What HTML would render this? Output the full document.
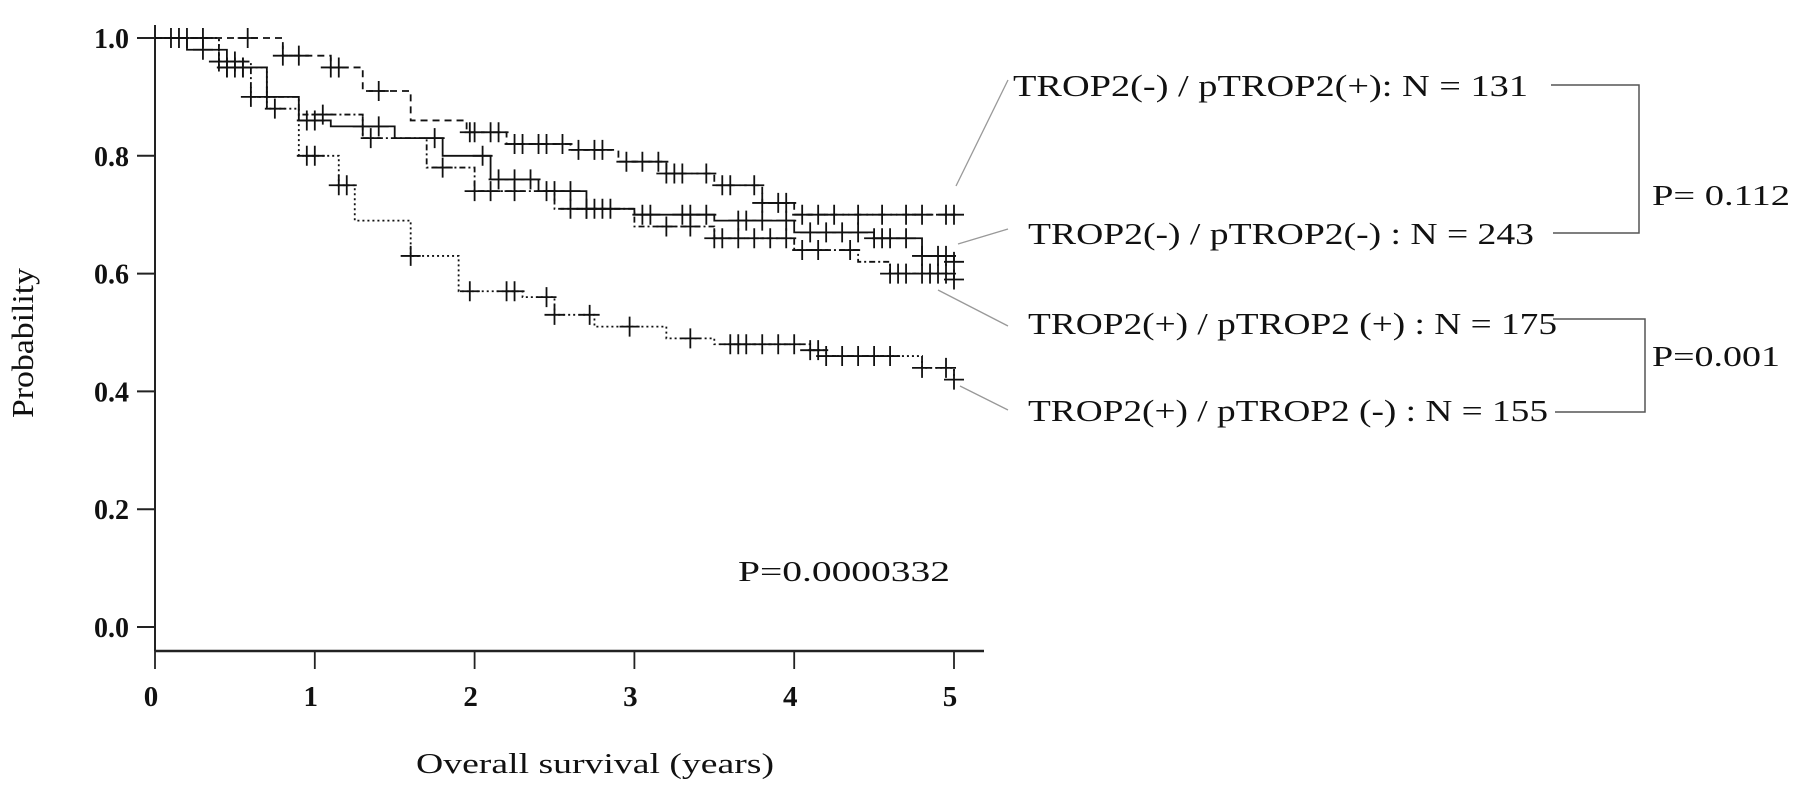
<!DOCTYPE html>
<html><head><meta charset="utf-8">
<style>
html,body{margin:0;padding:0;background:#fff;}
svg{display:block;}
text{font-family:"Liberation Serif",serif;fill:#111;}
</style></head>
<body>
<svg id="chart" width="1795" height="794" viewBox="0 0 1795 794" xmlns="http://www.w3.org/2000/svg">
<g id="axes"></g>
<g id="curves"></g>
<g id="annot">
<text x="0" y="0" font-size="31" text-anchor="middle" transform="translate(33,343) rotate(-90)" textLength="150" lengthAdjust="spacingAndGlyphs">Probability</text>
<text x="416" y="773" font-size="29" textLength="358" lengthAdjust="spacingAndGlyphs">Overall survival (years)</text>
<text x="738" y="581" font-size="29" textLength="212" lengthAdjust="spacingAndGlyphs">P=0.0000332</text>
<text x="1013" y="96" font-size="31" textLength="515" lengthAdjust="spacingAndGlyphs">TROP2(-) / pTROP2(+): N = 131</text>
<text x="1028" y="244" font-size="31" textLength="506" lengthAdjust="spacingAndGlyphs">TROP2(-) / pTROP2(-) : N = 243</text>
<text x="1028" y="334" font-size="31" textLength="529" lengthAdjust="spacingAndGlyphs">TROP2(+) / pTROP2 (+) : N = 175</text>
<text x="1028" y="421" font-size="31" textLength="520" lengthAdjust="spacingAndGlyphs">TROP2(+) / pTROP2 (-) : N = 155</text>
<g stroke="#999" stroke-width="1.3" fill="none">
<line x1="1008" y1="80" x2="956" y2="186"/>
<line x1="1008" y1="229" x2="958" y2="244"/>
<line x1="1008" y1="326" x2="938" y2="290"/>
<line x1="1008" y1="410" x2="960" y2="386"/>
</g>
<g stroke="#555" stroke-width="1.5" fill="none">
<polyline points="1551,85 1639,85 1639,233 1553,233"/>
<polyline points="1553,319 1645,319 1645,412 1555,412"/>
</g>
<text x="1652" y="205" font-size="29" textLength="138" lengthAdjust="spacingAndGlyphs">P= 0.112</text>
<text x="1652" y="366" font-size="29" textLength="128" lengthAdjust="spacingAndGlyphs">P=0.001</text>
</g>
</svg>
<script>
// ---- data ----
const xTicks = [0,1,2,3,4,5];
const yTicks = [0.0,0.2,0.4,0.6,0.8,1.0];
const yTickLabels = ["0.0","0.2","0.4","0.6","0.8","1.0"];
// step curves: times (years) and survival probabilities
const negPosTimes = [0,0.6,0.8,1.1,1.3,1.6,1.95,2.2,2.6,2.9,3.2,3.5,3.8,4.0,5.0];
const negPosSurv  = [1.0,1.0,0.97,0.95,0.91,0.86,0.84,0.82,0.81,0.79,0.77,0.75,0.72,0.70,0.70];
const negPosCens  = [0.1,0.58,0.8,0.9,1.1,1.15,1.4,1.97,2.0,2.1,2.15,2.25,2.3,2.4,2.45,2.55,2.65,2.75,2.8,2.95,3.05,3.15,3.2,3.25,3.3,3.45,3.55,3.6,3.75,3.8,3.9,3.95,4.05,4.15,4.25,4.4,4.55,4.7,4.8,4.95,5.0];
const negNegTimes = [0,0.2,0.45,0.7,0.9,1.1,1.5,1.8,2.1,2.4,2.7,3.0,3.5,4.0,4.5,4.8,5.0];
const negNegSurv  = [1.0,0.98,0.95,0.90,0.86,0.85,0.83,0.80,0.76,0.74,0.71,0.70,0.69,0.67,0.66,0.63,0.62];
const negNegCens  = [0.15,0.3,0.45,0.5,0.55,0.95,1.0,1.3,1.4,1.75,2.05,2.15,2.25,2.35,2.5,2.6,2.7,2.75,3.05,3.1,3.3,3.35,3.45,3.65,3.7,3.8,3.95,4.1,4.2,4.3,4.4,4.5,4.55,4.6,4.7,4.8,4.9,4.95,5.0];
const posPosTimes = [0,0.4,0.6,0.9,1.3,1.7,2.0,2.5,3.0,3.5,4.0,4.4,4.6,5.0];
const posPosSurv  = [1.0,0.96,0.90,0.87,0.83,0.78,0.74,0.71,0.68,0.66,0.64,0.62,0.60,0.59];
const posPosCens  = [0.2,0.4,0.5,0.6,0.7,1.05,1.35,1.8,2.0,2.1,2.25,2.45,2.6,2.7,2.8,2.85,3.2,3.35,3.5,3.55,3.65,3.75,3.85,3.95,4.05,4.15,4.35,4.6,4.65,4.7,4.8,4.85,4.9,4.95,5.0];
const posNegTimes = [0,0.4,0.7,0.9,1.15,1.25,1.6,1.9,2.3,2.5,2.75,3.2,3.5,4.1,4.2,4.8,5.0];
const posNegSurv  = [1.0,0.95,0.88,0.80,0.75,0.69,0.63,0.57,0.56,0.53,0.51,0.49,0.48,0.47,0.46,0.44,0.42];
const posNegCens  = [0.3,0.45,0.55,0.75,0.95,1.0,1.15,1.2,1.6,1.97,2.2,2.25,2.45,2.5,2.72,2.97,3.35,3.6,3.65,3.7,3.8,3.9,4.0,4.1,4.15,4.2,4.3,4.4,4.5,4.6,4.8,4.95,5.0];

// ---- scales ----
const X0=155, X1=954, Y0=627, Y1=38;
const xs = t => X0 + (X1-X0)*t/5;
const ys = p => Y0 - (Y0-Y1)*p;
const NS="http://www.w3.org/2000/svg";
function mk(tag, attrs, parent){const e=document.createElementNS(NS,tag);for(const k in attrs)e.setAttribute(k,attrs[k]);parent.appendChild(e);return e;}

const axes=document.getElementById('axes');
const ya=mk('line',{x1:X0,y1:25,x2:X0,y2:651,stroke:'#222','stroke-width':2},axes);


const xa=mk('line',{x1:X0,y1:651,x2:984,y2:651,stroke:'#222','stroke-width':2.5},axes);


yTicks.forEach((v,i)=>{
  const t=mk('line',{x1:137,y1:ys(v),x2:X0,y2:ys(v),stroke:'#222','stroke-width':2},axes);
  
  
  const l=mk('text',{x:129,y:ys(v)+10,'font-size':28,'font-weight':'bold','text-anchor':'end'},axes);
  l.textContent=yTickLabels[i];
  
  
});
xTicks.forEach(v=>{
  const t=mk('line',{x1:xs(v),y1:651,x2:xs(v),y2:669,stroke:'#222','stroke-width':1.8},axes);
  
  
  const l=mk('text',{x:xs(v)-4,y:706,'font-size':29,'font-weight':'bold','text-anchor':'middle'},axes);
  l.textContent=String(v);
  
  
});

function survAt(times,surv,t){let s=surv[0];for(let i=0;i<times.length;i++){if(times[i]<=t)s=surv[i];}return s;}
const curves=document.getElementById('curves');
function drawCurve(times,surv,cens,dash,name){
  let d=`M${xs(times[0])},${ys(surv[0])}`;
  for(let i=1;i<times.length;i++){d+=` H${xs(times[i])} V${ys(surv[i])}`;}
  const p=mk('path',{d:d,fill:'none',stroke:'#111','stroke-width':1.8,'stroke-dasharray':dash},curves);
  
  
  cens.forEach(c=>{
    const x=xs(c),y=ys(survAt(times,surv,c));
    const g=mk('path',{d:`M${x-10},${y} H${x+10} M${x},${y-10} V${y+10}`,stroke:'#111','stroke-width':1.8,fill:'none'},curves);
    
    
  });
}
drawCurve(negPosTimes,negPosSurv,negPosCens,'7,5','trop2neg-ptrop2pos');
drawCurve(negNegTimes,negNegSurv,negNegCens,'none','trop2neg-ptrop2neg');
drawCurve(posPosTimes,posPosSurv,posPosCens,'6,3,2,3','trop2pos-ptrop2pos');
drawCurve(posNegTimes,posNegSurv,posNegCens,'2,3','trop2pos-ptrop2neg');
</script>
</body></html>
